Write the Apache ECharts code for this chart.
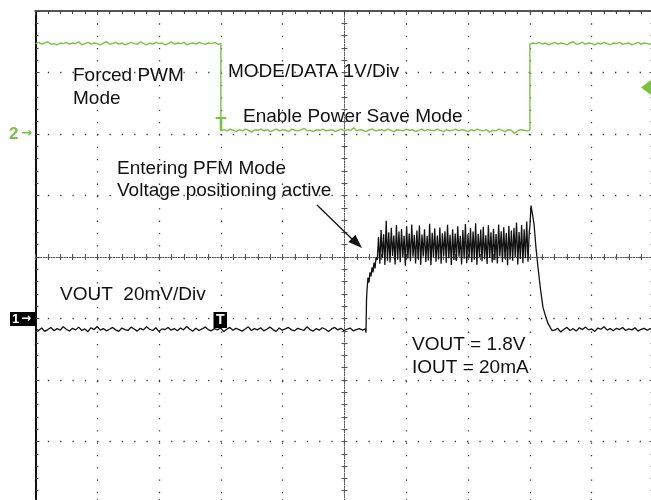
<!DOCTYPE html>
<html>
<head>
<meta charset="utf-8">
<title>PFM entry - scope capture</title>
<script src="https://cdn.jsdelivr.net/npm/echarts@6.0.0/dist/echarts.min.js"></script>
<style>
    html, body { margin: 0; padding: 0; background: #fff; }
    #scope { width: 651px; height: 500px; }
</style>
</head>
<body>
<div id="scope"></div>
<script>
    // time axis is in scope divisions (centre = 0)
    // CH2 MODE/DATA, volts (1V/div), three stretches split by the two edges
    var ch2Edges = [-5, -2.0, 3.0, 5];
    var ch2High1 = [1.47,1.49,1.46,1.48,1.50,1.46,1.47,1.45,1.48,1.47,1.49,1.46,1.48,1.47,1.50,1.45,1.47,1.49,1.46,1.48,
        1.47,1.45,1.48,1.50,1.46,1.47,1.49,1.46,1.48,1.45,1.47,1.49,1.47,1.46,1.50,1.47,1.45,1.48,1.46,1.49,
        1.47,1.48,1.45,1.47,1.50,1.46,1.48,1.47,1.49,1.45,1.47,1.48,1.46,1.49,1.47,1.46,1.48,1.47,1.49,1.46,1.47];
    var ch2Low = [0.05,0.07,0.05,0.08,0.06,0.04,0.07,0.05,0.08,0.06,0.03,0.07,0.06,0.08,0.05,0.07,0.04,0.06,0.08,0.05,
        0.07,0.06,0.04,0.08,0.06,0.05,0.07,0.09,0.05,0.06,0.04,0.07,0.06,0.08,0.05,0.06,0.07,0.04,0.06,0.08,
        0.05,0.07,0.06,0.10,0.05,0.07,0.06,0.04,0.07,0.08,0.05,0.06,0.07,0.05,0.08,0.06,0.04,0.07,0.06,0.05,
        0.08,0.06,0.07,0.04,0.06,0.08,0.05,0.07,0.06,0.05,0.08,0.06,0.04,0.07,0.05,0.06,0.08,0.05,0.07,0.06,
        0.04,0.07,0.05,0.08,0.06,0.05,0.07,0.03,0.06,0.05,0.08,0.06,0.04,0.07,0.06,0.01,0.05,0.07,0.06,0.05,0.06];
    var ch2High2 = [1.46,1.48,1.47,1.49,1.46,1.48,1.45,1.47,1.49,1.46,1.48,1.47,1.45,1.48,1.50,1.46,1.47,1.49,1.46,1.48,
        1.47,1.45,1.48,1.46,1.49,1.47,1.45,1.48,1.47,1.49,1.46,1.47,1.48,1.45,1.47,1.49,1.46,1.48,1.47,1.46,1.48];

    // CH1 VOUT, mV relative to its ground marker (20mV/div)
    var ch1Base1Span = [-5, 0.34];
    var ch1Base1 = [-3.4,-3.9,-3.1,-4.2,-3.6,-2.9,-4.0,-3.3,-3.8,-2.7,-3.5,-4.1,-3.2,-3.7,-2.8,-3.9,-3.4,-4.3,-3.0,-3.6,
        -2.6,-3.8,-3.3,-4.0,-3.5,-2.9,-3.7,-4.2,-3.1,-3.6,-3.9,-2.8,-3.4,-4.1,-3.2,-3.7,-2.7,-3.5,-3.9,-3.0,
        -4.2,-3.4,-3.6,-2.9,-3.8,-3.3,-4.0,-3.1,-3.7,-2.6,-3.5,-4.1,-3.2,-3.9,-3.4,-2.8,-3.6,-4.0,-3.3,-3.7,
        -3.0,-4.3,-3.5,-2.9,-3.8,-3.2,-3.6,-4.1,-3.4,-2.7,-3.9,-3.3,-3.7,-3.0,-4.0,-3.5,-2.8,-3.6,-4.2,-3.1,
        -3.8,-3.4,-2.9,-3.7,-4.0,-3.2,-3.5,-3.9,-2.7,-3.6,-4.1,-3.3,-3.8,-3.0,-3.5,-4.2,-3.4,-2.9,-3.7,-3.2,
        -3.9,-3.5,-3.1,-4.0,-3.6,-3.3,-3.8,-3.4];
    var ch1RiseT = [0.348,0.356,0.364,0.380,0.396,0.413,0.429,0.445,0.461,0.477,0.494,0.510];
    var ch1RiseV = [-4.6,5.9,9.1,13.3,11.7,15.0,13.7,16.6,15.0,18.2,16.3,19.8];
    // PFM ripple, one trough and one peak per cycle
    var ch1RippleSpan = [0.53, 2.99];
    var ch1RippleTroughs = [19.0,17.8,19.8,17.4,18.8,18.2,20.3,17.6,19.1,18.3,20.0,17.2,19.5,18.6,20.1,17.9,19.3,17.5,20.2,18.4,
        18.9,17.3,19.9,18.5,19.2,17.8,20.3,18.1,19.6,17.4,19.0,18.7,20.1,17.6,19.4,18.0,19.8,18.3,19.1,17.5,
        20.0,18.6,19.3,17.7,19.7,18.2,19.0,17.9,20.2,18.4,19.5,17.3,19.2,18.8,19.9,17.6,19.4,18.0,19.6,18.5];
    var ch1RipplePeaks = [26.5,28.8,27.4,31.8,28.0,29.5,27.0,30.4,28.3,29.1,26.9,30.0,27.6,30.6,27.2,28.6,30.2,27.3,29.0,26.8,
        30.8,27.9,29.3,27.0,29.6,27.7,28.4,30.5,27.2,29.0,27.6,30.0,26.9,28.8,30.7,27.4,29.4,28.3,31.0,27.5,
        28.9,29.8,27.1,30.3,28.0,29.2,27.5,30.6,28.4,29.7,27.8,30.1,28.6,29.5,31.2,28.1,30.4,29.0,31.5,28.2];
    var ch1DecayT = [3.00,3.018,3.066,3.098,3.131,3.174,3.212,3.260,3.293,3.357];
    var ch1DecayV = [30.0,36.7,30.9,23.1,16.6,9.1,3.6,0.3,-1.6,-3.9];
    var ch1Base2Span = [3.40, 5];
    var ch1Base2 = [-3.8,-3.2,-4.4,-3.5,-2.9,-3.9,-3.3,-4.1,-3.0,-3.6,-2.8,-3.7,-3.4,-4.2,-3.1,-3.5,-2.7,-3.8,-3.3,-4.0,
        -3.2,-3.6,-2.9,-3.9,-3.4,-3.7,-3.0,-4.1,-3.5,-3.2,-3.8,-3.3,-3.6];

    // channel settings
    var ch1Pos = -1, ch1Scale = 20;   // div, mV/div
    var ch2Pos = 2, ch2Scale = 1;     // div, V/div
    var green = '#7dc143';

    function sampled(span, vals) {
        var dt = (span[1] - span[0]) / (vals.length - 1);
        return vals.map(function (v, i) { return [span[0] + i * dt, v]; });
    }
    function paired(ts, vs) {
        return ts.map(function (t, i) { return [t, vs[i]]; });
    }
    function toDiv(pts, pos, scale) {
        return pts.map(function (p) { return [p[0], pos + p[1] / scale]; });
    }
    var ripple = [];
    ch1RippleTroughs.forEach(function (v, i) { ripple.push(v, ch1RipplePeaks[i]); });

    var ch2Data = toDiv([].concat(
        sampled([ch2Edges[0], ch2Edges[1]], ch2High1),
        sampled([ch2Edges[1], ch2Edges[2]], ch2Low),
        sampled([ch2Edges[2], ch2Edges[3]], ch2High2)
    ), ch2Pos, ch2Scale);
    var ch1Data = toDiv([].concat(
        sampled(ch1Base1Span, ch1Base1),
        paired(ch1RiseT, ch1RiseV),
        sampled(ch1RippleSpan, ripple),
        paired(ch1DecayT, ch1DecayV),
        sampled(ch1Base2Span, ch1Base2)
    ), ch1Pos, ch1Scale);

    var dots = { color: '#3a3a3a', width: 1.3, type: [1.3, 11.03] };
    var fine = { color: '#555', width: 1, type: [1, 1.6] };
    var noLabel = { show: false };

    function centreAxis(position, split) {
        return {
            type: 'value', position: position,
            axisLine: { show: true, onZero: true, onZeroAxisIndex: 0, lineStyle: fine },
            axisTick: { show: true, length: 3, lineStyle: { color: '#555' } },
            minorTick: { show: true, splitNumber: 5, length: 3, lineStyle: { color: '#555' } },
            axisLabel: noLabel,
            splitLine: { show: split, lineStyle: dots }
        };
    }
    function borderAxis(position, color, width) {
        return {
            type: 'value', position: position,
            axisLine: { show: true, onZero: false, lineStyle: { color: color, width: width } },
            axisTick: { show: true, inside: true, length: 4, lineStyle: { color: '#444' } },
            minorTick: { show: true, splitNumber: 5, length: 3, lineStyle: { color: '#444' } },
            axisLabel: noLabel,
            splitLine: { show: false }
        };
    }
    function withRange(ax, min, max) {
        ax.min = min; ax.max = max; ax.interval = 1;
        return ax;
    }

    var font = '19px "Liberation Sans", Arial, sans-serif';
    function label(text, x, y) {
        return { type: 'text', z: 50, style: { text: text, x: x, y: y, font: font, fill: '#111',
            textVerticalAlign: 'middle', verticalAlign: 'middle' } };
    }

    var option = {
        animation: false,
        backgroundColor: '#fff',
        grid: { left: 35.5, top: 11, width: 618, height: 492, outerBoundsMode: 'none', containLabel: false },
        xAxis: [
            withRange(centreAxis('bottom', true), -5, 5),
            withRange(centreAxis('top', false), -5, 5),
            withRange(borderAxis('top', '#555', 2), -5, 5),
            withRange(borderAxis('bottom', '#555', 2), -5, 5)
        ],
        yAxis: [
            withRange(centreAxis('left', true), -4, 4),
            withRange(centreAxis('right', false), -4, 4),
            withRange(borderAxis('left', '#111', 2), -4, 4),
            withRange(borderAxis('right', '#555', 2), -4, 4)
        ],
        series: [
            {
                name: 'MODE/DATA', type: 'line', data: ch2Data, xAxisIndex: 0, yAxisIndex: 0,
                showSymbol: false, lineStyle: { color: green, width: 1.4 }, z: 3
            },
            {
                name: 'VOUT', type: 'line', data: ch1Data, xAxisIndex: 0, yAxisIndex: 0,
                showSymbol: false, lineStyle: { color: '#111', width: 1.3 }, z: 4
            }
        ],
        graphic: [
            label('Forced PWM', 73, 76),
            label('Mode', 73, 99),
            label('MODE/DATA 1V/Div', 228, 72),
            label('Enable Power Save Mode', 243, 117),
            label('Entering PFM Mode', 117, 169),
            label('Voltage positioning active', 117, 191),
            label('VOUT  20mV/Div', 60, 295),
            label('VOUT = 1.8V', 412, 345),
            label('IOUT = 20mA', 412, 368),
            // arrow to the PFM entry
            { type: 'line', z: 50, shape: { x1: 317, y1: 205, x2: 353, y2: 240 }, style: { stroke: '#111', lineWidth: 1.3 } },
            { type: 'polygon', z: 50, shape: { points: [[362, 248], [348.4, 241.9], [355.4, 234.7]] }, style: { fill: '#111' } },
            // channel markers
            { type: 'text', z: 50, style: { text: '2', x: 9, y: 134, font: 'bold 17px "Liberation Sans", Arial', fill: green, textVerticalAlign: 'middle', verticalAlign: 'middle' } },
            { type: 'text', z: 50, style: { text: '\u2192', x: 21, y: 134, font: 'bold 13px "DejaVu Sans"', fill: green, textVerticalAlign: 'middle', verticalAlign: 'middle' } },
            { type: 'rect', z: 50, shape: { x: 10, y: 312, width: 25, height: 14 }, style: { fill: '#000' } },
            { type: 'text', z: 51, style: { text: '1', x: 12, y: 319.5, font: 'bold 13px "Liberation Sans", Arial', fill: '#fff', textVerticalAlign: 'middle', verticalAlign: 'middle' } },
            { type: 'text', z: 51, style: { text: '\u2192', x: 21, y: 319, font: 'bold 12px "DejaVu Sans"', fill: '#fff', textVerticalAlign: 'middle', verticalAlign: 'middle' } },
            // trigger marks
            { type: 'text', z: 50, style: { text: 'T', x: 221, y: 125, font: 'bold 18px "Liberation Sans", Arial', fill: green, textAlign: 'center', align: 'center', textVerticalAlign: 'middle', verticalAlign: 'middle' } },
            { type: 'rect', z: 50, shape: { x: 213.5, y: 312, width: 13.5, height: 16 }, style: { fill: '#000' } },
            { type: 'text', z: 51, style: { text: 'T', x: 220.3, y: 320.5, font: 'bold 14px "Liberation Sans", Arial', fill: '#fff', textAlign: 'center', align: 'center', textVerticalAlign: 'middle', verticalAlign: 'middle' } },
            { type: 'polygon', z: 50, shape: { points: [[641, 87.5], [651, 80], [651, 95]] }, style: { fill: green } }
        ]
    };

    var myecharts = echarts.init(document.getElementById('scope'));
    myecharts.setOption(option);
</script>
</body>
</html>
